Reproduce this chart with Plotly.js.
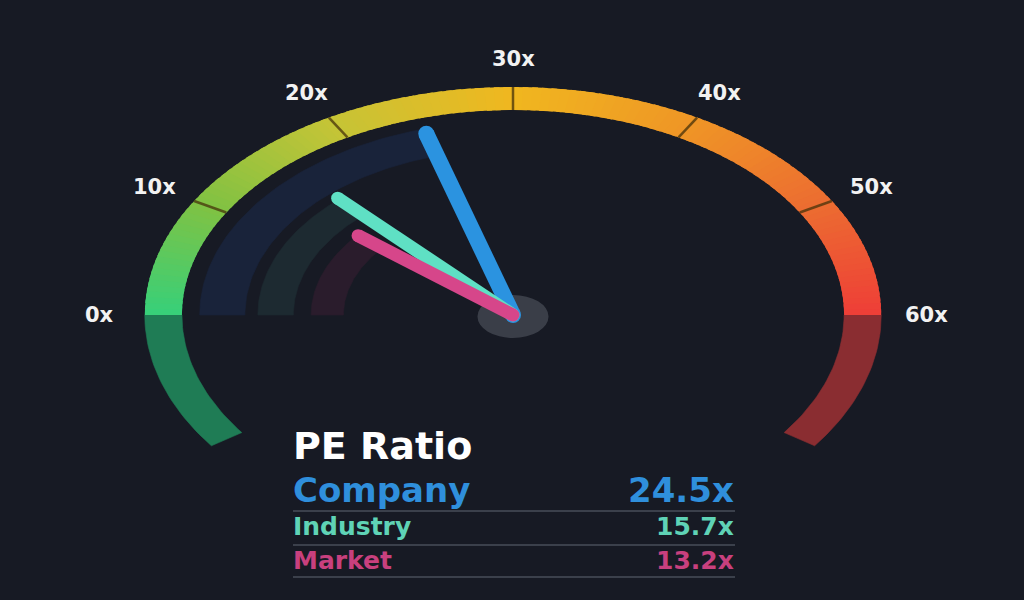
<!DOCTYPE html>
<html>
<head>
<meta charset="utf-8">
<script src="https://cdn.plot.ly/plotly-3.0.1.min.js"></script>
<style>
html,body{margin:0;padding:0;background:#171a24;}
#chart{width:1024px;height:600px;}
</style>
</head>
<body>
<div id="chart"></div>
<script>
// ---- data ----
const seriesNames = ['Company', 'Industry', 'Market'];
const seriesValues = [24.5, 15.7, 13.2];
const tickValues = [0, 10, 20, 30, 40, 50, 60];
const tickLabels = ['0x', '10x', '20x', '30x', '40x', '50x', '60x'];
const gaugeMax = 60;
const chartTitle = 'PE Ratio';

// ---- style ----
const bg = '#171a24';
const seriesColors = ['#2b93e0', '#5fe0c4', '#d6468a'];
const seriesTextColors = ['#2f8fdc', '#5fd3b6', '#c8407e'];
const shadowColors = ['#19233a', '#1d2a31', '#2a1c2c'];
const shadowRadii = [[166, 194], [136, 158], [105, 125]];
const needleLen = [197, 166, 131];
const needleWidths = [16, 13, 13];
const stopVals = [0, 10, 20, 30, 40, 50, 60];
const stopCols = ['#36d07a', '#80c243', '#c6c436', '#f0b71f', '#ef9526', '#ec6c31', '#ee3e37'];
const extLeftCol = '#1f7c55';
const extRightCol = '#8a2d31';
const K = 1.615;            // horizontal stretch of the picture
const R_OUT = 228, R_IN = 205, R_LABEL = 256;
const EXT = 60 * 35 / 180;  // extension below horizontal, in value units

function ang(v) { return Math.PI * (1 - v / gaugeMax); }
function pt(v, r) { const a = ang(v); return [r * Math.cos(a), r * Math.sin(a)]; }
function hex2rgb(h) { return [1, 3, 5].map(i => parseInt(h.substr(i, 2), 16)); }
function colAt(v) {
  for (let i = 0; i < stopVals.length - 1; i++) {
    if (v <= stopVals[i + 1]) {
      const t = (v - stopVals[i]) / (stopVals[i + 1] - stopVals[i]);
      const a = hex2rgb(stopCols[i]), b = hex2rgb(stopCols[i + 1]);
      return 'rgb(' + a.map((c, j) => Math.round(c + (b[j] - c) * t)).join(',') + ')';
    }
  }
  return stopCols[stopCols.length - 1];
}
function band(v0, v1, r0, r1, n) {
  const xs = [], ys = [];
  for (let i = 0; i <= n; i++) { const p = pt(v0 + (v1 - v0) * i / n, r1); xs.push(p[0]); ys.push(p[1]); }
  for (let i = n; i >= 0; i--) { const p = pt(v0 + (v1 - v0) * i / n, r0); xs.push(p[0]); ys.push(p[1]); }
  xs.push(xs[0]); ys.push(ys[0]);
  return [xs, ys];
}
function polyTrace(xy, color, lw) {
  return {x: xy[0], y: xy[1], type: 'scatter', mode: 'lines', fill: 'toself',
    fillcolor: color, line: {color: color, width: lw === undefined ? 0.6 : lw}, hoverinfo: 'skip', showlegend: false};
}

const traces = [];
// extensions
traces.push(polyTrace(band(-EXT, 0, R_IN, R_OUT, 30), extLeftCol));
traces.push(polyTrace(band(gaugeMax, gaugeMax + EXT, R_IN, R_OUT, 30), extRightCol));
// gradient arc (overlapping slices to hide seams)
const step = 0.5;
for (let v = 0; v < gaugeMax; v += step) {
  const v1 = Math.min(gaugeMax, v + step * 1.6);
  traces.push(polyTrace(band(v, v1, R_IN, R_OUT, 3), colAt(v + step / 2), 0));
}
// tick separators
tickValues.slice(1, -1).forEach(v => {
  const a = pt(v, R_IN), b = pt(v, R_OUT);
  traces.push({x: [a[0], b[0]], y: [a[1], b[1]], type: 'scatter', mode: 'lines',
    line: {color: 'rgba(70,50,10,0.75)', width: 2.5}, hoverinfo: 'skip', showlegend: false});
});
// shadow bands
seriesValues.forEach((v, i) => {
  traces.push(polyTrace(band(0, v, shadowRadii[i][0], shadowRadii[i][1], 60), shadowColors[i]));
});
// needles
seriesValues.forEach((v, i) => {
  const tip = pt(v, needleLen[i] - needleWidths[i] / 2);
  traces.push({x: [0, tip[0]], y: [0, tip[1]], type: 'scatter', mode: 'lines+markers',
    line: {color: seriesColors[i], width: needleWidths[i]},
    marker: {color: seriesColors[i], size: needleWidths[i], line: {width: 0}},
    hoverinfo: 'skip', showlegend: false, name: seriesNames[i]});
});

const annotations = [];
tickValues.forEach((v, i) => {
  const p = pt(v, R_LABEL);
  annotations.push({x: p[0], y: p[1], xref: 'x', yref: 'y', text: tickLabels[i], showarrow: false,
    xanchor: 'center', yanchor: 'middle',
    font: {family: 'DejaVu Sans', size: 21, color: '#f2f2f2', weight: 700}});
});
const L = 291 / 1024, Rr = 736 / 1024;
function py(p) { return 1 - p / 600; }
annotations.push({x: L, y: py(446), xref: 'paper', yref: 'paper', text: chartTitle, showarrow: false,
  xanchor: 'left', yanchor: 'middle', font: {family: 'DejaVu Sans', size: 38, color: '#ffffff', weight: 700}});
const rowY = [490, 526, 560];
const rowSize = [34, 25, 25];
seriesNames.forEach((n, i) => {
  annotations.push({x: L, y: py(rowY[i]), xref: 'paper', yref: 'paper', text: n, showarrow: false,
    xanchor: 'left', yanchor: 'middle', font: {family: 'DejaVu Sans', size: rowSize[i], color: seriesTextColors[i], weight: 700}});
  annotations.push({x: Rr, y: py(rowY[i]), xref: 'paper', yref: 'paper', text: seriesValues[i].toFixed(1) + 'x', showarrow: false,
    xanchor: 'right', yanchor: 'middle', font: {family: 'DejaVu Sans', size: rowSize[i], color: seriesTextColors[i], weight: 700}});
});
const shapes = [];
[511, 545, 577].forEach(y => {
  shapes.push({type: 'line', xref: 'paper', yref: 'paper', x0: 293 / 1024, x1: 735 / 1024, y0: py(y), y1: py(y),
    line: {color: '#3b404b', width: 2}});
});
// hub
shapes.push({type: 'circle', xref: 'x', yref: 'y', x0: -22, x1: 22, y0: -23, y1: 20, layer: 'below',
  fillcolor: '#3a3e48', line: {width: 0}});

const cxPx = 513, cyPx = 315;
const layout = {
  width: 1024, height: 600,
  margin: {l: 0, r: 0, t: 0, b: 0},
  paper_bgcolor: bg, plot_bgcolor: bg,
  xaxis: {range: [-cxPx / K, (1024 - cxPx) / K], visible: false, fixedrange: true},
  yaxis: {range: [-(600 - cyPx), cyPx], visible: false, fixedrange: true},
  showlegend: false,
  annotations: annotations,
  shapes: shapes
};
Plotly.newPlot('chart', traces, layout, {displayModeBar: false, staticPlot: true});
</script>
</body>
</html>
